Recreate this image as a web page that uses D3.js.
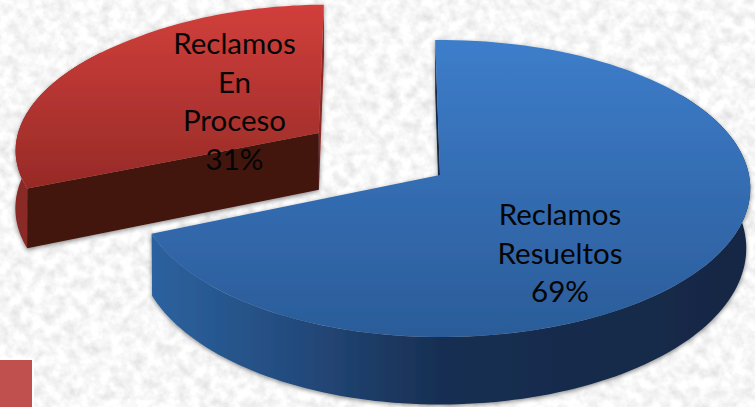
<!DOCTYPE html>
<html><head><meta charset="utf-8">
<script src="https://cdn.jsdelivr.net/npm/d3@7"></script>
<style>html,body{margin:0;padding:0;background:#f0f0f0;overflow:hidden}svg{display:block}text{font-family:Lato,"Open Sans",sans-serif}</style>
</head><body><div id="chart"></div>
<script>
const categories = ["Reclamos Resueltos", "Reclamos En Proceso"];
const values = [69, 31];
const labelLines = [["Reclamos", "Resueltos", "69%"], ["Reclamos", "En", "Proceso", "31%"]];
const W = 755, H = 407;
const rad = Math.PI / 180;

const svg = d3.select("#chart").append("svg").attr("width", W).attr("height", H);
const defs = svg.append("defs");

// Paper-like backdrop
const tex = defs.append("filter").attr("id", "paper").attr("x", 0).attr("y", 0).attr("width", "100%").attr("height", "100%");
tex.append("feTurbulence").attr("type", "fractalNoise").attr("baseFrequency", 0.09).attr("numOctaves", 3).attr("seed", 7);
tex.append("feColorMatrix").attr("type", "matrix").attr("values", "0.42 0 0 0 0.72  0.42 0 0 0 0.72  0.42 0 0 0 0.72  0 0 0 0 1");
svg.append("rect").attr("width", W).attr("height", H).attr("filter", "url(#paper)");

const shadow = defs.append("filter").attr("id", "shadow").attr("x", "-5%").attr("y", "-5%").attr("width", "110%").attr("height", "110%");
shadow.append("feDropShadow").attr("dx", 0).attr("dy", 1.5).attr("stdDeviation", 2).attr("flood-color", "#000").attr("flood-opacity", 0.45);

function grad(id, horizontal, x1, x2, stops) {
  const g = defs.append("linearGradient").attr("id", id).attr("gradientUnits", "userSpaceOnUse");
  if (horizontal) g.attr("x1", x1).attr("x2", x2).attr("y1", 0).attr("y2", 0);
  else g.attr("x1", 0).attr("x2", 0).attr("y1", x1).attr("y2", x2);
  stops.forEach(s => g.append("stop").attr("offset", s[0]).attr("stop-color", s[1]));
  return `url(#${id})`;
}
const blueTop = grad("blueTop", false, 40, 337, [[0, "#3d7dca"], [1, "#2b5c99"]]);
const blueSide = grad("blueSide", true, 151, 750, [[0, "#2c629f"], [0.25, "#234a7c"], [0.48, "#182f52"], [1, "#132744"]]);
const redTop = grad("redTop", false, 5, 190, [[0, "#d13f3b"], [1, "#962a27"]]);
const redEnd = "#43130f";

// Perspective view of the tilted disc: unit-disc coordinates to pixels
const persp = 0.0909;
const topX = d3.scaleLinear().domain([-1.5, -1, 0, 1]).range([-21.5, 138.5, 440, 749]);
const topY = d3.scaleLinear().domain([0, 1]).range([175, 322.3]);
const baseX = d3.scaleLinear().domain([-1.5, -1, 0, 1]).range([-22, 139, 440, 745]);
const baseY = d3.scaleLinear().domain([0, 1]).range([234, 389]);
const project = (sx, sy) => (X, Y) => { const w = 1 - persp * Y; return [sx(X / w), sy(Y / w)]; };
const onTop = project(topX, topY), onBase = project(baseX, baseY);

const pie = d3.pie().sort(null).startAngle(-1 * rad).endAngle(359 * rad);
const slices = pie(values);
const explode = [[0, 0], [-0.413, -0.2927]];
const line = d3.line();

function rimPoints(proj, off, a0, a1) {
  const n = 120;
  return d3.range(n + 1).map(i => {
    const a = a0 + (a1 - a0) * i / n;
    return proj(off[0] + Math.sin(a), off[1] - Math.cos(a));
  });
}
function radialWall(g, off, a, fill) {
  const pts = [onTop(off[0], off[1]), onTop(off[0] + Math.sin(a), off[1] - Math.cos(a)),
               onBase(off[0] + Math.sin(a), off[1] - Math.cos(a)), onBase(off[0], off[1])];
  g.append("path").attr("d", line(pts) + "Z").attr("fill", fill);
}
function drawRim(g, off, from, to, fill) {
  const a = rimPoints(onTop, off, from, to);
  const b = rimPoints(onBase, off, from, to).reverse();
  g.append("path").attr("d", line(a.concat(b)) + "Z").attr("fill", fill);
}
function drawFace(g, s, off, fill) {
  const face = [onTop(off[0], off[1])].concat(rimPoints(onTop, off, s.startAngle, s.endAngle));
  g.append("path").attr("d", line(face) + "Z").attr("fill", fill);
}

// Detached slice, behind
const red = slices[1], redOff = explode[1];
const gr = svg.append("g").attr("filter", "url(#shadow)");
radialWall(gr, redOff, red.endAngle, "#8a2a27");
drawRim(gr, redOff, red.startAngle, red.startAngle + 60 * rad, "#8a2a27");
radialWall(gr, redOff, red.startAngle, redEnd);
drawFace(gr, red, redOff, redTop);

// Main slice, in front
const blue = slices[0], blueOff = explode[0];
const gb = svg.append("g").attr("filter", "url(#shadow)");
radialWall(gb, blueOff, blue.startAngle, "#122a4a");
drawRim(gb, blueOff, 55 * rad, blue.endAngle, blueSide);
drawFace(gb, blue, blueOff, blueTop);

// Labels
const labelPos = [[560, 225], [234.5, 54]];
labelLines.forEach((lines, i) => {
  const t = svg.append("text").attr("text-anchor", "middle").attr("font-size", 29.5).attr("fill", "#050505");
  lines.forEach((l, j) => t.append("tspan").attr("x", labelPos[i][0]).attr("y", labelPos[i][1] + j * 38.5).text(l));
});

// Corner swatch
svg.append("rect").attr("x", -3).attr("y", 359).attr("width", 36).attr("height", 60)
  .attr("fill", "#c0504d").attr("stroke", "#fff").attr("stroke-width", 2);
</script></body></html>
